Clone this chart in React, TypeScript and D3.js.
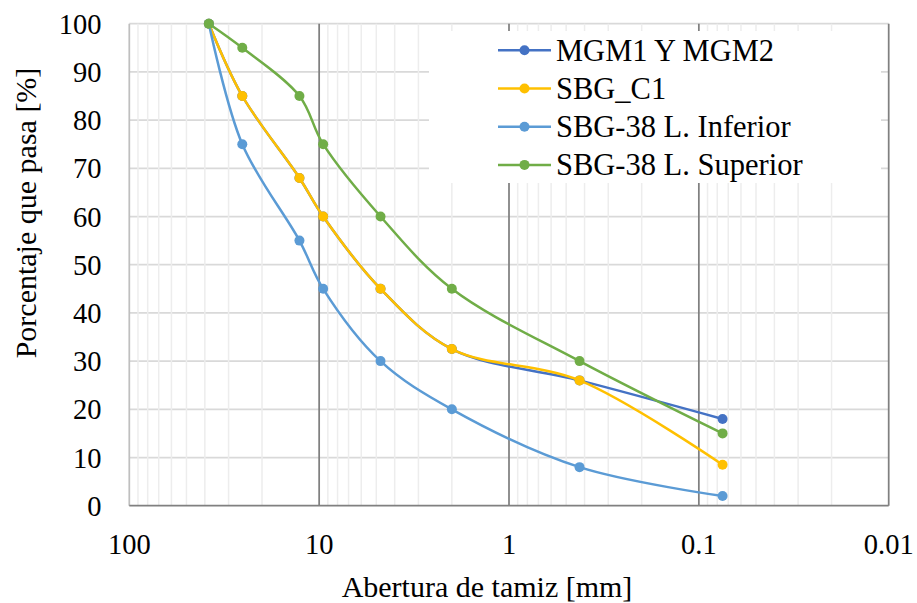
import React from "react";
import * as d3 from "d3";

// Sieve openings [mm] and cumulative percentage passing for each gradation
const sieveSizes = [38.1, 25.4, 12.7, 9.525, 4.75, 2.0, 0.425, 0.075];
const mgm = [100, 85, 68, 60, 45, 32.5, 26, 18];
const sbgC1 = [100, 85, 68, 60, 45, 32.5, 26, 8.5];
const sbgInferior = [100, 75, 55, 45, 30, 20, 8, 2];
const sbgSuperior = [100, 95, 85, 75, 60, 45, 30, 15];

const seriesNames = ["MGM1 Y MGM2", "SBG_C1", "SBG-38 L. Inferior", "SBG-38 L. Superior"];
const seriesValues = [mgm, sbgC1, sbgInferior, sbgSuperior];
const seriesColors = ["#4472C4", "#FFC000", "#5B9BD5", "#70AD47"];

const xTickValues = [100, 10, 1, 0.1, 0.01];
const xTickLabels = ["100", "10", "1", "0.1", "0.01"];
const yTickValues = [0, 10, 20, 30, 40, 50, 60, 70, 80, 90, 100];

const W = 917;
const H = 603;
const plot = { left: 129.3, right: 888.7, top: 23.7, bottom: 505.7 };
const FONT = "Liberation Serif, Times New Roman, Liberation Sans, Arial, sans-serif";
const textStyle = { fontFamily: FONT };

export default function App() {
  const x = d3.scaleLog().domain([100, 0.01]).range([plot.left, plot.right]);
  const y = d3.scaleLinear().domain([0, 100]).range([plot.bottom, plot.top]);

  // minor gridlines: 2..9 within each decade
  const minor: number[] = [];
  for (let e = -2; e < 2; e++) {
    for (let m = 2; m <= 9; m++) minor.push(m * Math.pow(10, e));
  }
  const majorInner = [10, 1, 0.1];

  const line = d3
    .line<[number, number]>()
    .x((d) => x(d[0]))
    .y((d) => y(d[1]))
    .curve(d3.curveCatmullRom.alpha(0.5));

  const legend = { x: 429, y: 31, w: 452, h: 152, rowY0: 50.3, rowStep: 38.2 };

  return (
    <svg
      width={W}
      height={H}
      style={{ position: "absolute", left: 0, top: 0, background: "#fff", fontFamily: FONT }}
    >
      <rect x={0} y={0} width={W} height={H} fill="#fff" />
      {/* horizontal gridlines */}
      {yTickValues.slice(1).map((v) => (
        <line key={"h" + v} x1={plot.left} x2={plot.right} y1={y(v)} y2={y(v)} stroke="#d9d9d9" strokeWidth={1.75} />
      ))}
      {/* minor vertical gridlines */}
      {minor.map((v) => (
        <line key={"m" + v} x1={x(v)} x2={x(v)} y1={plot.top} y2={plot.bottom} stroke="#ededed" strokeWidth={1.5} />
      ))}
      {/* major vertical gridlines */}
      {majorInner.map((v) => (
        <line key={"M" + v} x1={x(v)} x2={x(v)} y1={plot.top} y2={plot.bottom} stroke="#808080" strokeWidth={1.75} />
      ))}
      <line x1={plot.right} x2={plot.right} y1={plot.top} y2={plot.bottom} stroke="#808080" strokeWidth={1.75} />
      <line x1={plot.left} x2={plot.left} y1={plot.top} y2={plot.bottom} stroke="#bfbfbf" strokeWidth={1.75} />
      <line x1={plot.left} x2={plot.right} y1={plot.bottom} y2={plot.bottom} stroke="#808080" strokeWidth={1.75} />

      {/* legend box */}
      <rect x={legend.x} y={legend.y} width={legend.w} height={legend.h} fill="#fff" />

      {/* series */}
      {seriesValues.map((vals, i) => {
        const pts = sieveSizes.map((s, j) => [s, vals[j]] as [number, number]);
        return (
          <g key={"s" + i}>
            <path d={line(pts) || ""} fill="none" stroke={seriesColors[i]} strokeWidth={2.5} />
            {pts.map((p, j) => (
              <circle key={j} cx={x(p[0])} cy={y(p[1])} r={5} fill={seriesColors[i]} />
            ))}
          </g>
        );
      })}

      {/* legend entries */}
      {seriesNames.map((name, i) => {
        const ry = legend.rowY0 + i * legend.rowStep;
        return (
          <g key={"l" + i}>
            <line x1={498} x2={551} y1={ry} y2={ry} stroke={seriesColors[i]} strokeWidth={2.5} />
            <circle cx={524.5} cy={ry} r={5} fill={seriesColors[i]} />
            <text x={556} y={ry + 10.5} fontSize={30.5} fill="#000" style={textStyle}>
              {name}
            </text>
          </g>
        );
      })}

      {/* y tick labels */}
      {yTickValues.map((v) => (
        <text key={"yt" + v} x={101.5} y={y(v) + 10} fontSize={28.5} textAnchor="end" fill="#000" style={textStyle}>
          {v}
        </text>
      ))}
      {/* x tick labels */}
      {xTickValues.map((v, i) => (
        <text key={"xt" + v} x={x(v)} y={554} fontSize={28.5} textAnchor="middle" fill="#000" style={textStyle}>
          {xTickLabels[i]}
        </text>
      ))}

      {/* axis titles */}
      <text x={487} y={597} fontSize={30} textAnchor="middle" fill="#000" style={textStyle}>
        Abertura de tamiz [mm]
      </text>
      <text
        transform={`translate(36,213) rotate(-90)`}
        fontSize={30}
        textAnchor="middle"
        fill="#000"
        style={textStyle}
      >
        Porcentaje que pasa [%]
      </text>
    </svg>
  );
}
